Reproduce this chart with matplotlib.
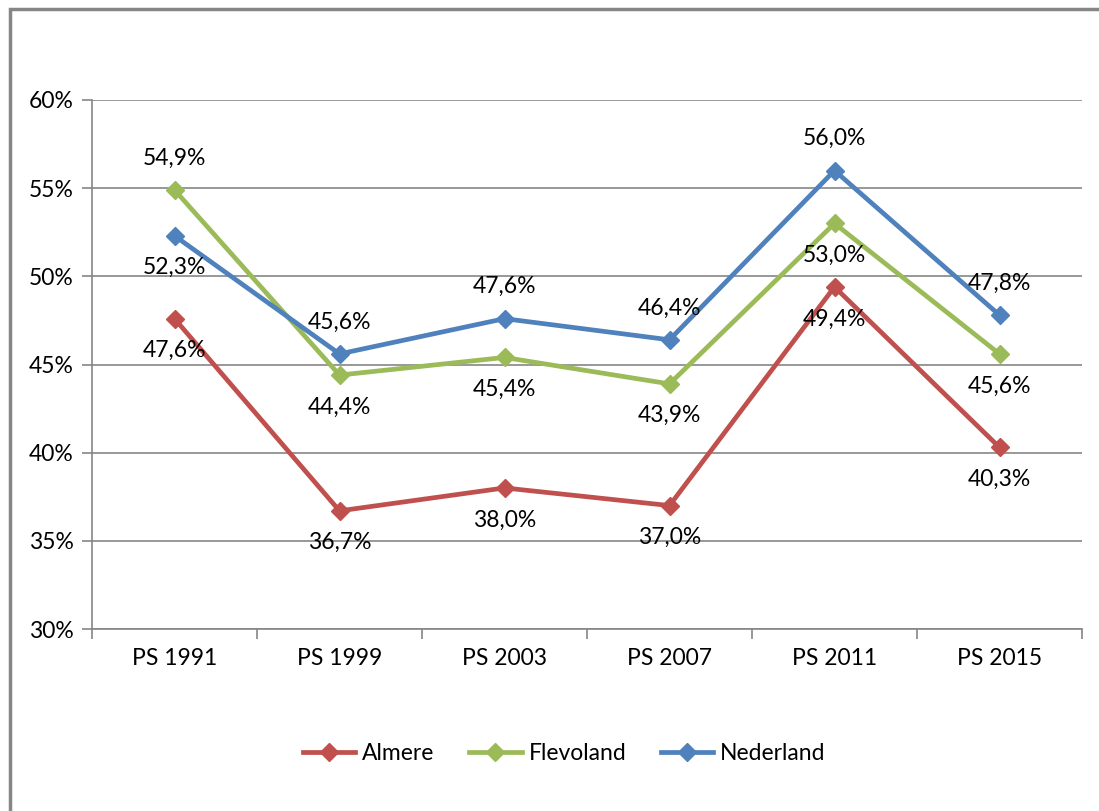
import matplotlib.pyplot as plt
from matplotlib.patches import Rectangle
from matplotlib.ticker import FuncFormatter

plt.rcParams['font.family'] = ['Lato', 'DejaVu Sans']

categories = ['PS 1991', 'PS 1999', 'PS 2003', 'PS 2007', 'PS 2011', 'PS 2015']
almere = [47.6, 36.7, 38.0, 37.0, 49.4, 40.3]
flevoland = [54.9, 44.4, 45.4, 43.9, 53.0, 45.6]
nederland = [52.3, 45.6, 47.6, 46.4, 56.0, 47.8]

# label placement: 1 = above the point, -1 = below
almere_pos = [-1, -1, -1, -1, -1, -1]
flevoland_pos = [1, -1, -1, -1, -1, -1]
nederland_pos = [-1, 1, 1, 1, 1, 1]

fig = plt.figure(figsize=(10.99, 8.11), dpi=100)
ax = fig.add_axes([92 / 1099, 1 - 629 / 811, (1082 - 92) / 1099, (629 - 100) / 811])

# outer chart border (cut off at right and bottom like the original)
fig.patches.append(Rectangle((10 / 1099, -0.05), 1.2, 1.05 - 9 / 811,
                             transform=fig.transFigure, fill=False,
                             edgecolor='#868686', linewidth=2.5))

x = list(range(len(categories)))
series = [('Almere', almere, almere_pos, '#C0504D'),
          ('Flevoland', flevoland, flevoland_pos, '#9BBB59'),
          ('Nederland', nederland, nederland_pos, '#4F81BD')]

for name, vals, pos, col in series:
    ax.plot(x, vals, color=col, linewidth=3.4, marker='D', markersize=9,
            label=name, zorder=3)
    for xi, v, p in zip(x, vals, pos):
        ax.annotate(f'{v:.1f}%'.replace('.', ','), (xi, v),
                    xytext=(0, 23 * p), textcoords='offset points',
                    ha='center', va='center', fontsize=16.5, color='black')

ax.set_xlim(-0.5, len(categories) - 0.5)
ax.set_ylim(30, 60)
ax.set_yticks(range(30, 61, 5))
ax.yaxis.set_major_formatter(FuncFormatter(lambda v, _: f'{v:.0f}%'))
ax.set_xticks(x)
ax.set_xticklabels(categories)
ax.set_xticks([i + 0.5 for i in range(-1, len(categories))], minor=True)
ax.tick_params(axis='x', which='major', length=0, pad=14, labelsize=16.5)
ax.tick_params(axis='x', which='minor', length=7, color='#868686', width=1.2)
ax.tick_params(axis='y', length=7, color='#868686', width=1.2, labelsize=16.5, pad=6)
ax.grid(axis='y', color='#868686', linewidth=1.2)
ax.set_axisbelow(True)
for s in ['top', 'right']:
    ax.spines[s].set_visible(False)
ax.spines['left'].set_color('#868686')
ax.spines['bottom'].set_color('#868686')
ax.spines['left'].set_linewidth(1.2)
ax.spines['bottom'].set_linewidth(1.2)

ax.legend(loc='center', bbox_to_anchor=(0.477, -0.235), ncol=3, frameon=False,
          fontsize=16.5, handlelength=2.3, columnspacing=1.5, handletextpad=0.3)

fig.savefig('out.png', dpi=100)
